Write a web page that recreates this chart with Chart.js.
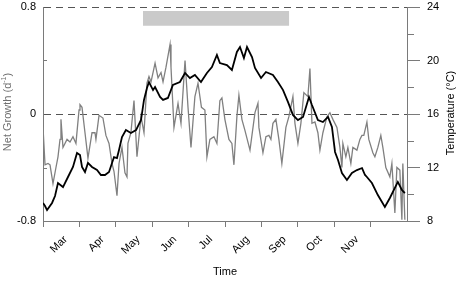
<!DOCTYPE html>
<html>
<head>
<meta charset="utf-8">
<script src="https://cdn.jsdelivr.net/npm/chart.js@4/dist/chart.umd.min.js"></script>
<style>
  body { margin: 0; background: #fff; }
  #wrap { width: 459px; height: 281px; }
</style>
</head>
<body>
<div id="wrap"><canvas id="chart" width="459" height="281"></canvas></div>
<script>
// x values are days counted from 1 March
const monthStarts = [0, 31, 61, 92, 122, 153, 184, 214, 245, 275];
const monthNames = ["Mar", "Apr", "May", "Jun", "Jul", "Aug", "Sep", "Oct", "Nov"];
const labelDays = monthNames.map((m, i) => monthStarts[i] + 19);

const growthDays = [0, 1.7, 4.2, 5.9, 8.4, 10.9, 12.6, 14.3, 15.1, 16.8, 20.2, 22.7, 25.2, 27.7, 30.3, 31.1, 32.8, 35.3, 37.8, 41.2,
  43.7, 44.5, 47.1, 50.4, 52.9, 55.5, 58.0, 59.7, 62.2, 63.9, 66.4, 68.9, 70.6, 71.4, 73.9, 76.5, 79.0, 82.4, 84.9, 87.4,
  89.1, 90.8, 94.2, 96.7, 99.2, 100.9, 103.4, 106.8, 107.6, 110.1, 113.5, 116.0, 119.4, 121.9, 124.4, 127.7, 130.3, 133.2, 136.1, 137.8,
  140.3, 143.7, 146.2, 148.7, 150.4, 152.9, 156.3, 158.8, 160.5, 163.0, 164.7, 167.2, 169.7, 174.0, 178.2, 180.7, 181.5, 184.9, 187.4, 189.9,
  191.6, 193.3, 195.8, 198.3, 200.8, 204.2, 206.7, 210.1, 211.8, 214.3, 216.8, 219.3, 222.7, 224.4, 226.1, 228.6, 231.1, 232.8, 235.3, 238.7,
  241.2, 243.7, 247.1, 249.6, 251.3, 252.1, 254.6, 256.3, 258.8, 260.5, 263.9, 266.4, 268.1, 269.7, 272.3, 273.9, 277.3, 279.0, 281.5, 284.0,
  285.7, 288.2, 291.6, 293.3, 295.8, 297.5, 300.0, 301.7, 302.5, 304.2];
const growthValues = [-0.10, -0.38, -0.37, -0.38, -0.52, -0.40, -0.32, -0.19, -0.04, -0.25, -0.19, -0.21, -0.17, -0.22, 0.03, 0.07, 0.05, -0.14, -0.33, -0.14,
  -0.14, -0.19, -0.01, -0.03, -0.16, -0.22, -0.37, -0.43, -0.61, -0.37, -0.25, -0.44, -0.47, -0.22, -0.14, 0.10, -0.32, -0.02, -0.14, 0.23,
  0.28, 0.24, 0.38, 0.27, 0.31, 0.24, 0.35, 0.52, 0.35, -0.10, 0.08, -0.07, 0.40, 0.05, -0.25, 0.13, 0.23, 0.05, 0.03, -0.32,
  -0.19, -0.17, -0.22, 0.10, 0.12, -0.04, -0.19, -0.22, -0.38, -0.02, 0.14, -0.04, -0.12, -0.27, 0.01, 0.08, -0.10, -0.29, -0.17, -0.16,
  -0.19, -0.07, -0.04, -0.19, -0.37, -0.10, -0.02, 0.13, -0.07, -0.22, -0.07, 0.16, 0.13, 0.34, -0.07, -0.06, -0.14, -0.27, -0.14, -0.02,
  0.01, -0.04, -0.10, -0.25, -0.40, -0.22, -0.32, -0.25, -0.37, -0.25, -0.27, -0.19, -0.16, -0.16, -0.06, -0.19, -0.29, -0.32, -0.25, -0.16,
  -0.25, -0.40, -0.47, -0.37, -0.74, -0.40, -0.42, -0.79, -0.37, -0.79];

const tempDays = [0, 1.7, 3.4, 7.6, 10.1, 12.6, 16.8, 21.0, 25.2, 28.6, 31.1, 32.8, 35.3, 37.8, 41.2, 45.4, 48.7, 52.1, 55.5, 59.7,
  62.2, 63.9, 66.4, 69.7, 73.9, 78.2, 82.4, 84.9, 87.4, 89.1, 92.5, 94.2, 98.4, 100.9, 105.0, 109.2, 115.1, 119.4, 123.5, 127.7,
  132.8, 137.8, 142.0, 146.2, 148.7, 154.6, 158.8, 163.0, 165.6, 168.9, 171.5, 175.7, 178.2, 183.3, 187.4, 193.3, 197.5, 201.8, 205.9, 210.1,
  214.3, 218.6, 223.6, 226.1, 231.1, 235.3, 239.6, 242.9, 245.5, 248.0, 251.3, 255.5, 259.7, 263.9, 268.2, 270.7, 272.3, 276.5, 281.5, 287.4,
  291.6, 295.8, 298.3, 301.7, 304.2];
const tempValues = [9.35, 9.12, 8.82, 9.35, 9.87, 10.84, 10.54, 11.29, 12.04, 13.08, 12.93, 12.04, 11.66, 12.34, 12.04, 11.81, 11.44, 11.44, 11.66, 12.78,
  12.71, 13.31, 14.28, 14.80, 14.58, 14.80, 15.55, 17.05, 17.94, 18.39, 17.79, 18.02, 17.27, 17.05, 17.20, 18.17, 18.39, 19.07, 18.69, 18.92,
  18.39, 19.07, 19.51, 20.41, 19.81, 19.66, 19.29, 20.64, 21.01, 20.19, 21.01, 20.26, 19.44, 18.69, 19.14, 18.92, 18.39, 17.79, 16.90, 15.93,
  15.55, 15.78, 17.27, 16.67, 15.55, 15.40, 15.78, 15.03, 13.16, 12.56, 11.59, 11.07, 11.59, 11.81, 11.96, 11.44, 11.29, 10.84, 9.94, 9.05,
  9.72, 10.47, 10.92, 10.32, 10.09];

// grey bar across the top (day range, net growth range)
const shadeDays = [84, 207];
const shadeTop = 0.77;
const shadeBottom = 0.66;

const growthTicks = [-0.8, 0, 0.8];
const growthMinor = [-0.4, 0.4];
const dashedAt = [0, 0.8];
const tempTicks = [8, 12, 16, 20, 24];
const tempMinor = [10, 14, 18, 22];

const axisGrey = "#7a7a7a";
const FONT = "Arial, 'Liberation Sans', sans-serif";

const toPoints = (xs, ys) => xs.map((x, i) => ({ x: x, y: ys[i] }));

const extras = {
  id: "extras",
  afterDraw(chart) {
    const ctx = chart.ctx;
    const area = chart.chartArea;
    const yL = chart.scales.y;
    const yR = chart.scales.y1;
    ctx.save();
    ctx.strokeStyle = axisGrey;
    ctx.lineWidth = 1;
    growthMinor.forEach(v => {
      const py = Math.round(yL.getPixelForValue(v)) + 0.5;
      ctx.beginPath();
      ctx.moveTo(area.left, py);
      ctx.lineTo(area.left + 4, py);
      ctx.stroke();
    });
    tempMinor.forEach(v => {
      const py = Math.round(yR.getPixelForValue(v)) + 0.5;
      ctx.beginPath();
      ctx.moveTo(area.right, py);
      ctx.lineTo(area.right + 7, py);
      ctx.stroke();
    });

    ctx.textBaseline = "middle";
    ctx.textAlign = "center";
    ctx.fillStyle = "#000";
    ctx.font = "11px " + FONT;
    ctx.fillText("Time", (area.left + area.right) / 2, 272);

    // right title, reads bottom to top
    ctx.save();
    ctx.translate(451, 113);
    ctx.rotate(-Math.PI / 2);
    ctx.fillText("Temperature (°C)", 0, 0);
    ctx.restore();

    // left title with superscript
    ctx.save();
    ctx.translate(8, 112);
    ctx.rotate(-Math.PI / 2);
    ctx.fillStyle = "#707070";
    ctx.textAlign = "left";
    const a = "Net Growth (d", s = "-1", b = ")";
    ctx.font = "11px " + FONT;
    const wa = ctx.measureText(a).width, wb = ctx.measureText(b).width;
    ctx.font = "7px " + FONT;
    const ws = ctx.measureText(s).width;
    let x0 = -(wa + ws + wb) / 2;
    ctx.font = "11px " + FONT;
    ctx.fillText(a, x0, 0);
    ctx.font = "7px " + FONT;
    ctx.fillText(s, x0 + wa, -4);
    ctx.font = "11px " + FONT;
    ctx.fillText(b, x0 + wa + ws, 0);
    ctx.restore();

    ctx.restore();
  }
};

new Chart(document.getElementById("chart"), {
  type: "line",
  data: {
    datasets: [
      {
        label: "Temperature",
        data: toPoints(tempDays, tempValues),
        yAxisID: "y1",
        borderColor: "#000",
        borderWidth: 1.8,
        pointRadius: 0,
        tension: 0,
        order: 0
      },
      {
        label: "Net Growth",
        data: toPoints(growthDays, growthValues),
        yAxisID: "y",
        borderColor: "#808080",
        borderWidth: 1.3,
        pointRadius: 0,
        tension: 0,
        order: 1
      },
      {
        label: "Period",
        data: toPoints(shadeDays, [shadeTop, shadeTop]),
        yAxisID: "y",
        borderWidth: 0,
        borderColor: "rgba(0,0,0,0)",
        backgroundColor: "#cacaca",
        fill: { value: shadeBottom },
        pointRadius: 0,
        order: 2
      }
    ]
  },
  options: {
    responsive: false,
    animation: false,
    layout: { padding: { top: 7, left: 0, right: 0, bottom: 0 } },
    plugins: {
      legend: { display: false },
      tooltip: { enabled: false }
    },
    scales: {
      x: {
        type: "linear",
        position: "bottom",
        min: 0,
        max: 306,
        afterBuildTicks: scale => {
          scale.ticks = monthStarts.concat(labelDays).sort((p, q) => p - q).map(v => ({ value: v }));
        },
        afterFit: scale => {
          scale.height = 60;
          scale.paddingLeft = 0;
          scale.paddingRight = 0;
        },
        ticks: {
          autoSkip: false,
          minRotation: 45,
          maxRotation: 45,
          padding: 6,
          color: "#000",
          font: { family: FONT, size: 11 },
          callback: value => {
            const i = labelDays.indexOf(value);
            return i >= 0 ? monthNames[i] : "";
          }
        },
        grid: {
          drawOnChartArea: false,
          tickLength: 6,
          tickColor: ctx => (ctx.tick && labelDays.includes(ctx.tick.value)) ? "rgba(0,0,0,0)" : axisGrey
        },
        border: { color: axisGrey, width: 1 }
      },
      y: {
        position: "left",
        min: -0.8,
        max: 0.8,
        afterBuildTicks: scale => {
          scale.ticks = growthTicks.map(v => ({ value: v }));
        },
        afterFit: scale => {
          scale.width = 43;
          scale.paddingTop = 0;
          scale.paddingBottom = 0;
        },
        ticks: {
          padding: 7,
          color: "#000",
          font: { family: FONT, size: 11 },
          callback: v => String(v)
        },
        grid: {
          drawTicks: false,
          color: ctx => (ctx.tick && dashedAt.includes(ctx.tick.value)) ? "#555" : "rgba(0,0,0,0)",
          lineWidth: 1
        },
        border: { color: axisGrey, width: 1, dash: [7, 5] }
      },
      y1: {
        position: "right",
        min: 8,
        max: 24,
        afterBuildTicks: scale => {
          scale.ticks = tempTicks.map(v => ({ value: v }));
        },
        afterFit: scale => {
          scale.width = 52;
          scale.paddingTop = 0;
          scale.paddingBottom = 0;
        },
        ticks: {
          padding: 7,
          color: "#000",
          font: { family: FONT, size: 11 }
        },
        grid: {
          drawOnChartArea: false,
          tickLength: 13,
          tickColor: axisGrey
        },
        border: { color: axisGrey, width: 1 }
      }
    }
  },
  plugins: [extras]
});
</script>
</body>
</html>
